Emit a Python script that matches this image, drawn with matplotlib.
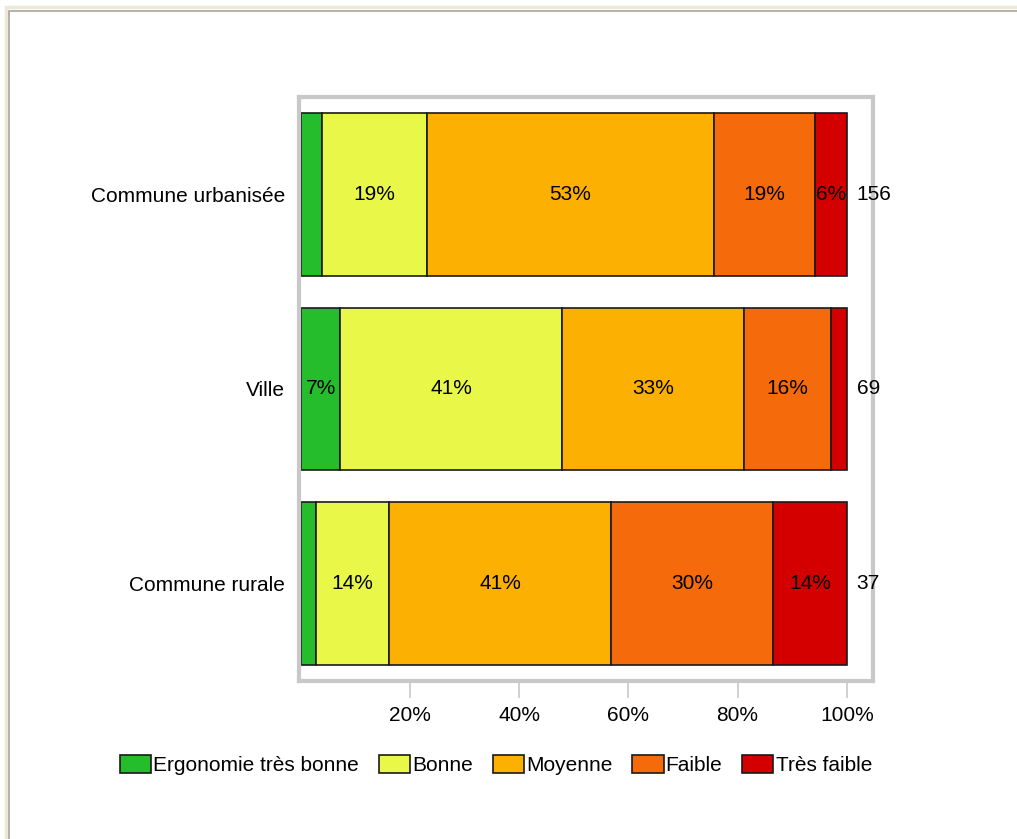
"""Stacked horizontal bars: ergonomie par type de commune."""

import matplotlib

matplotlib.use("Agg")
import matplotlib.pyplot as plt  # noqa: E402
from matplotlib.patches import Rectangle  # noqa: E402

plt.rcParams["font.family"] = ["Liberation Sans", "DejaVu Sans"]

categories = ["Commune urbanisée", "Ville", "Commune rurale"]
levels = ["Ergonomie très bonne", "Bonne", "Moyenne", "Faible", "Très faible"]
counts_n = [156, 69, 37]
# percentages per level, one list per category (top to bottom)
shares = {
    "Commune urbanisée": [3.85, 19.23, 52.56, 18.59, 5.77],
    "Ville": [7.25, 40.58, 33.33, 15.94, 2.90],
    "Commune rurale": [2.70, 13.51, 40.54, 29.73, 13.51],
}
xticks = [20, 40, 60, 80, 100]
colors = ["#25bd2b", "#e9f748", "#fcb001", "#f56a0a", "#d40000"]

FS = 15

fig = plt.figure(figsize=(10.17, 8.39), dpi=100)

# window-like frame around the picture
fig.patches.append(Rectangle((6 / 1017, -0.1), 1.2, (839 - 7) / 839 + 0.1,
                             transform=fig.transFigure, facecolor="none",
                             edgecolor="#ece9d8", lw=2.5))
fig.patches.append(Rectangle((9 / 1017, -0.1), 1.2, (839 - 11) / 839 + 0.1,
                             transform=fig.transFigure, facecolor="none",
                             edgecolor="#a8a698", lw=1.2))

ax = fig.add_axes([299 / 1017, 1 - 681 / 839, 574 / 1017, 584 / 839])

ypos = list(range(len(categories)))
for yi, cat in zip(ypos, categories):
    left = 0.0
    for val, col in zip(shares[cat], colors):
        ax.barh(yi, val, left=left, height=0.837, color=col,
                edgecolor="#1a1a1a", lw=1.2)
        if val >= 5:
            ax.text(left + val / 2, yi, f"{val:.0f}%", ha="center",
                    va="center", fontsize=FS)
        left += val
    ax.text(101.8, yi, str(counts_n[yi]), ha="left", va="center", fontsize=FS)

ax.set_xlim(-0.35, 104.8)
ax.set_ylim(2.5, -0.5)
ax.set_yticks(ypos)
ax.set_yticklabels(categories, fontsize=FS)
ax.tick_params(axis="y", length=0, pad=10)
ax.set_xticks(xticks)
ax.set_xticklabels([f"{t}%" for t in xticks], fontsize=FS)
ax.tick_params(axis="x", length=12, width=1.2, color="#c8c8c8", pad=6)
for sp in ax.spines.values():
    sp.set_color("#c8c8c8")
    sp.set_linewidth(3)

handles = [Rectangle((0, 0), 1, 1, facecolor=c, edgecolor="#1a1a1a", lw=1.2)
           for c in colors]
fig.legend(handles, levels, loc="center", bbox_to_anchor=(496 / 1017, 1 - 765 / 839),
           ncol=5, frameon=False, fontsize=FS, handlelength=1.5, handleheight=1.0,
           handletextpad=0.1, columnspacing=0.95)

fig.savefig("out.png", dpi=100)
